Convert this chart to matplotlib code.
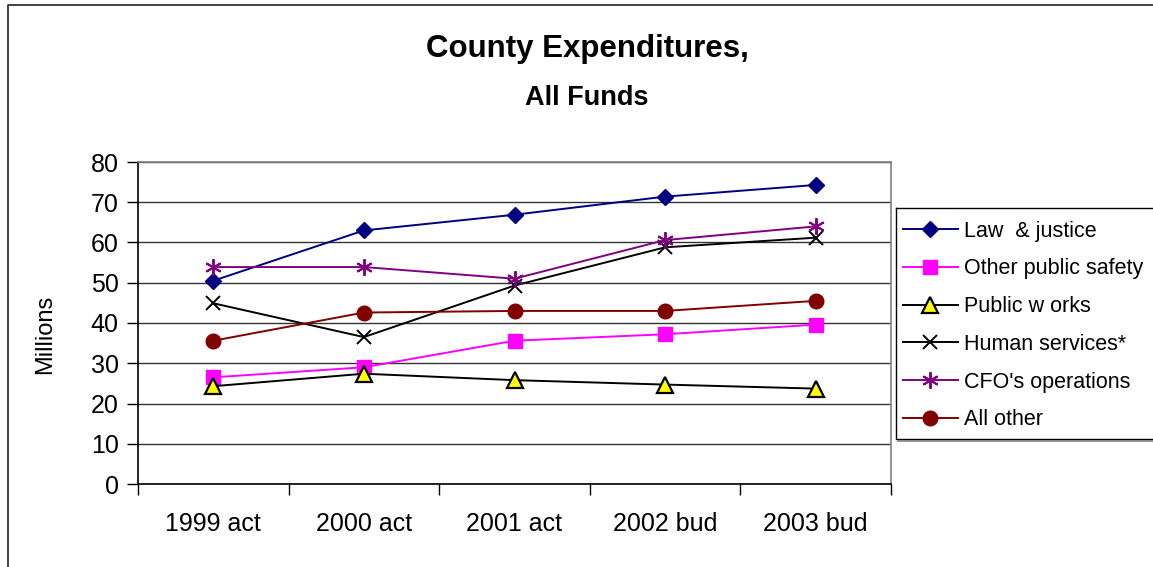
import matplotlib
matplotlib.use("Agg")
import matplotlib.pyplot as plt
from matplotlib.lines import Line2D

plt.rcParams['font.family'] = ['Liberation Sans', 'DejaVu Sans']

categories = ["1999 act", "2000 act", "2001 act", "2002 bud", "2003 bud"]
law_justice = [50.5, 63.0, 66.9, 71.4, 74.3]
other_public_safety = [26.5, 29.0, 35.6, 37.2, 39.6]
public_works = [24.3, 27.4, 25.8, 24.7, 23.7]
human_services = [44.9, 36.5, 49.3, 58.8, 61.2]
cfo_operations = [53.9, 53.9, 51.0, 60.6, 64.0]
all_other = [35.6, 42.6, 43.0, 43.0, 45.5]
yticks = [0, 10, 20, 30, 40, 50, 60, 70, 80]

W, H = 1153, 567
fig = plt.figure(figsize=(W / 100, H / 100), dpi=100)
fig.patch.set_facecolor('white')

ax = fig.add_axes([138 / W, 1 - 484 / H, (891 - 138) / W, (484 - 162) / H])
x = list(range(len(categories)))

lw = 1.4
series = [
    ("Law  & justice", law_justice, dict(color='#000080', marker='D', markersize=8.5,
                                         markerfacecolor='#000080', markeredgecolor='#000080')),
    ("Other public safety", other_public_safety, dict(color='#FF00FF', marker='s', markersize=10,
                                                      markerfacecolor='#FF00FF', markeredgecolor='#FF00FF')),
    ("Public w orks", public_works, dict(color='black', marker='^', markersize=11,
                                         markerfacecolor='#FFFF00', markeredgecolor='black', markeredgewidth=1.6)),
    ("Human services*", human_services, dict(color='black', marker='x', markersize=10,
                                             markeredgecolor='black', markeredgewidth=1.4)),
    ("CFO's operations", cfo_operations, dict(color='#800080', marker=(6, 2, 0), markersize=12,
                                              markeredgecolor='#800080', markeredgewidth=1.4)),
    ("All other", all_other, dict(color='#800000', marker='o', markersize=10.5,
                                  markerfacecolor='#800000', markeredgecolor='#800000')),
]

handles = []
for label, vals, kw in series:
    h, = ax.plot(x, vals, linewidth=lw, label=label, zorder=3, clip_on=False, **kw)
    handles.append(h)

ax.set_xlim(-0.5, len(categories) - 0.5)
ax.set_ylim(0, 80)
ax.set_yticks(yticks)
ax.set_yticklabels([str(v) for v in yticks])
ax.yaxis.grid(True, color='#333333', linewidth=1.0, zorder=0)
ax.set_axisbelow(True)

# category boundaries as major ticks, labels on minor ticks at centers
ax.set_xticks([i - 0.5 for i in range(len(categories) + 1)])
ax.set_xticklabels([])
ax.set_xticks(x, minor=True)
ax.set_xticklabels(categories, minor=True)
ax.tick_params(axis='x', which='major', length=8, width=1, color='black', direction='out')
ax.tick_params(axis='x', which='minor', length=0, pad=20, labelsize=18)
ax.tick_params(axis='y', length=8, width=1, color='black', direction='out', pad=6, labelsize=18)

for s in ['top', 'right']:
    ax.spines[s].set_color('#808080')
    ax.spines[s].set_linewidth(1.2)
for s in ['left', 'bottom']:
    ax.spines[s].set_color('black')
    ax.spines[s].set_linewidth(1.2)

# Titles
fig.text(587 / W, 1 - 57.5 / H, "County Expenditures,", ha='center', va='baseline',
         fontsize=22.5, fontweight='bold')
fig.text(587 / W, 1 - 105 / H, "All Funds", ha='center', va='baseline',
         fontsize=19.5, fontweight='bold')

fig.text(45 / W, 1 - 334 / H, "Millions", rotation=90, ha='center', va='center', fontsize=17)

# Legend box
box_left = 896 / W
box_top = 1 - 208 / H
box_bottom = 1 - 439 / H
fig.add_artist(Line2D([box_left, box_left, 1.01], [box_top, box_bottom, box_bottom],
                      transform=fig.transFigure, color='black', linewidth=1.0))
fig.add_artist(Line2D([box_left, 1.01], [box_top, box_top],
                      transform=fig.transFigure, color='black', linewidth=1.0))
fig.add_artist(Line2D([box_left + 2 / W, 1.01], [box_bottom - 1.5 / H, box_bottom - 1.5 / H],
                      transform=fig.transFigure, color='#808080', linewidth=1.2))

leg = fig.legend(handles=handles, loc='center left', bbox_to_anchor=(903 / W, 1 - 325.5 / H),
                 frameon=False, fontsize=15.5, handlelength=2.55, handletextpad=0.3,
                 labelspacing=0.78, borderpad=0, borderaxespad=0)

# Figure border (left and top)
fig.add_artist(Line2D([8 / W, 8 / W, 1.01], [-0.01, 1 - 5 / H, 1 - 5 / H],
                      transform=fig.transFigure, color='#222222', linewidth=1.2))

fig.savefig("out.png", dpi=100, facecolor='white')
